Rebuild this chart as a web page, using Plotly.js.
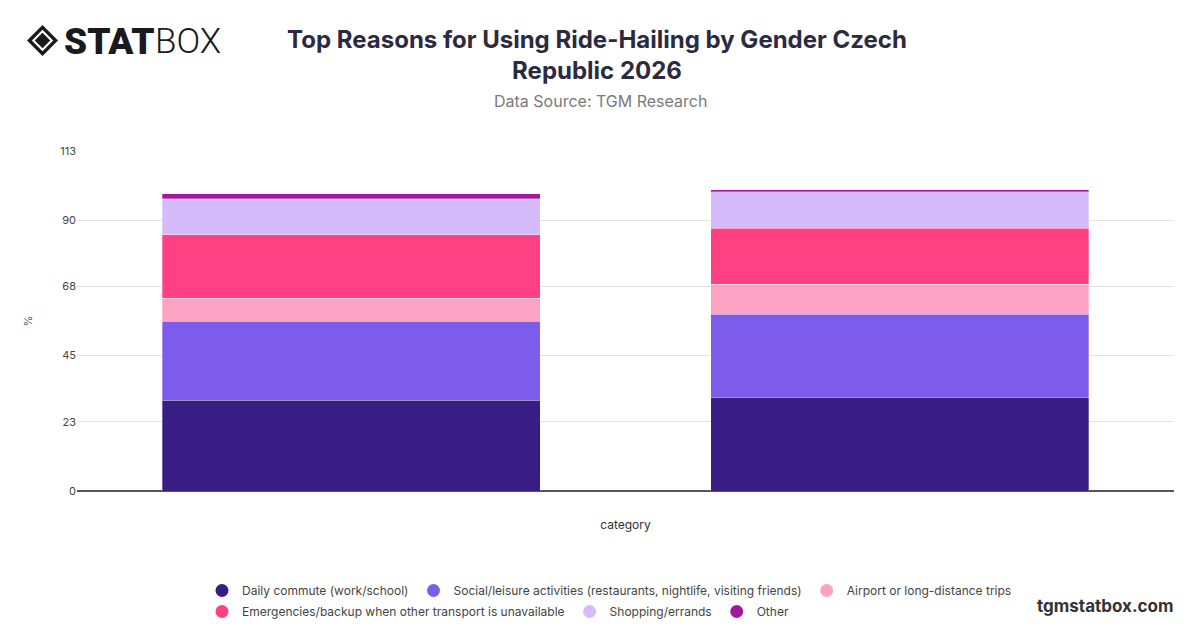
<!DOCTYPE html>
<html>
<head>
<meta charset="utf-8">
<script src="https://cdn.plot.ly/plotly-3.0.1.min.js"></script>
<style>html,body{margin:0;padding:0;background:#fff;}#chart{width:1200px;height:628px;}</style>
</head>
<body>
<div id="chart"></div>
<script>
const categories = ["Male", "Female"];
const seriesNames = [
  "Daily commute (work/school)",
  "Social/leisure activities (restaurants, nightlife, visiting friends)",
  "Airport or long-distance trips",
  "Emergencies/backup when other transport is unavailable",
  "Shopping/errands",
  "Other"
];
const dailyCommute = [30.2, 31.0];
const socialLeisure = [26.3, 27.8];
const airportTrips = [7.6, 9.9];
const emergencies = [21.0, 18.7];
const shopping = [12.1, 12.1];
const other = [1.6, 0.7];
const yTicks = [0, 23, 45, 68, 90, 113];
const colors = ["#371d84", "#7e5ceb", "#fca3c3", "#ff4183", "#d6bbfb", "#a3179f"];

const seriesValues = [dailyCommute, socialLeisure, airportTrips, emergencies, shopping, other];

const traces = [];
seriesValues.forEach((vals, i) => {
  traces.push({
    type: "bar", x: categories, y: vals, name: seriesNames[i],
    marker: {color: colors[i], line: {color: "rgba(255,255,255,0.5)", width: 0.6}},
    showlegend: false, hoverinfo: "x+y+name"
  });
});
seriesValues.forEach((vals, i) => {
  traces.push({
    type: "scatter", mode: "markers", x: [null], y: [null], name: seriesNames[i],
    legend: i < 3 ? "legend" : "legend2",
    marker: {color: colors[i], size: 13, symbol: "circle"}, showlegend: true, hoverinfo: "skip"
  });
});

const L = 77, R = 1174, T = 151, B = 491;
const px = v => (v - L) / (R - L);
const py = v => (B - v) / (B - T);

const logoSvg = '<svg xmlns="http://www.w3.org/2000/svg" width="34" height="34" viewBox="0 0 34 34">' +
  '<path d="M17 1 L33 17 L17 33 L1 17 Z" fill="#1a1a1a"/>' +
  '<path d="M17 6 L28 17 L17 28 L6 17 Z" fill="#fff"/>' +
  '<path d="M17 9 L25 17 L17 25 L9 17 Z" fill="#1a1a1a"/>' +
  '</svg>';

const legendStyle = top => ({
  orientation: "h", x: px(202), xanchor: "left", y: py(top), yanchor: "top",
  font: {size: 12, color: "#444"}, traceorder: "normal", tracegroupgap: 0,
  bgcolor: "rgba(0,0,0,0)"
});

const layout = {
  width: 1200, height: 628,
  paper_bgcolor: "#ffffff", plot_bgcolor: "#ffffff",
  margin: {l: L, r: 1200 - R, t: T, b: 628 - B, autoexpand: false},
  barmode: "stack", bargap: 0.31,
  font: {family: "Inter, 'Noto Sans', sans-serif", color: "#444"},
  title: {
    text: "Top Reasons for Using Ride-Hailing by Gender Czech<br>Republic 2026",
    font: {family: "Inter, sans-serif", size: 24, color: "#2b2a40", weight: 700},
    x: 0.4975, xanchor: "center", xref: "container",
    y: 1 - 48 / 628, yanchor: "top", yref: "container"
  },
  xaxis: {
    showticklabels: false, showgrid: false, zeroline: false,
    showline: false, ticks: "",
    title: {text: "category", font: {size: 12, color: "#333"}, standoff: 29}
  },
  yaxis: {
    range: [0, 113], tickvals: yTicks, ticktext: yTicks.map(String),
    tickfont: {size: 11, color: "#444"},
    gridcolor: "#e3e3e3", gridwidth: 1,
    zeroline: true, zerolinecolor: "#555", zerolinewidth: 1.5,
    showline: false, ticks: "", ticklen: 0,
    title: {text: "%", font: {size: 11, color: "#555"}, standoff: 25}
  },
  legend: legendStyle(576),
  legend2: legendStyle(597),
  annotations: [
    {text: "Data Source: TGM Research", xref: "paper", yref: "paper",
     x: px(600), y: py(101), xanchor: "center", yanchor: "middle", showarrow: false,
     font: {size: 16, color: "#7a7a7a"}},
    {text: "tgmstatbox.com", xref: "paper", yref: "paper",
     x: px(1176), y: py(606), xanchor: "right", yanchor: "middle", showarrow: false,
     font: {size: 17, color: "#333", weight: 700}},
    {text: "STAT", xref: "paper", yref: "paper",
     x: px(62), y: py(41), xanchor: "left", yanchor: "middle", showarrow: false,
     font: {family: "Roboto, sans-serif", size: 37, color: "#1a1a1a", weight: 900}},
    {text: "BOX", xref: "paper", yref: "paper",
     x: px(153), y: py(41), xanchor: "left", yanchor: "middle", showarrow: false,
     font: {family: "Roboto, sans-serif", size: 35, color: "#1a1a1a", weight: 300}}
  ],
  images: [
    {source: "data:image/svg+xml;base64," + btoa(logoSvg), xref: "paper", yref: "paper",
     x: px(26), y: py(24), sizex: 33 / (R - L), sizey: 33 / (B - T),
     xanchor: "left", yanchor: "top", sizing: "stretch", layer: "above"}
  ]
};

Plotly.newPlot("chart", traces, layout, {displayModeBar: false, responsive: false});
</script>
</body>
</html>
